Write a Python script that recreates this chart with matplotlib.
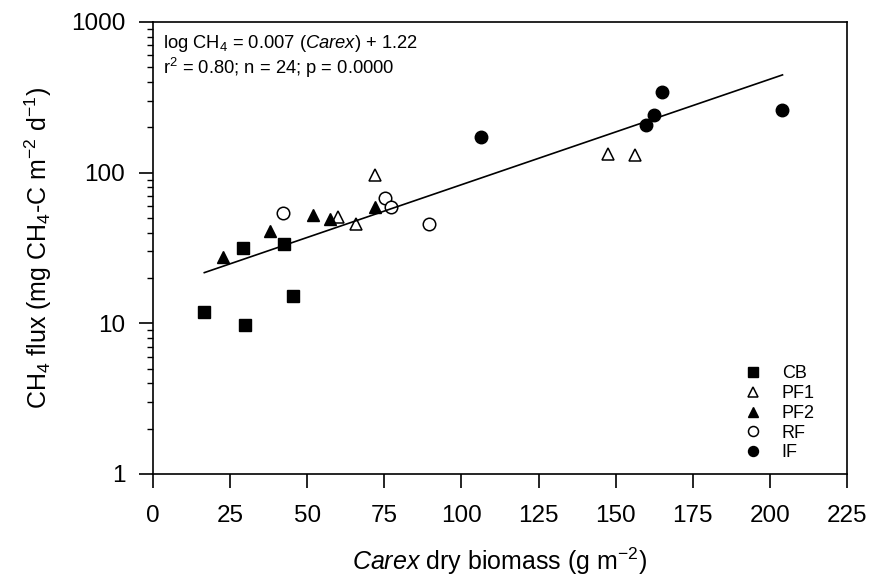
import numpy as np
import matplotlib
matplotlib.use('Agg')
import matplotlib.pyplot as plt
from matplotlib.ticker import LogLocator, NullFormatter, FixedLocator

plt.rcParams['font.family'] = ['Liberation Sans', 'DejaVu Sans']
plt.rcParams['mathtext.fontset'] = 'custom'
plt.rcParams['mathtext.rm'] = 'Liberation Sans'
plt.rcParams['mathtext.it'] = 'Liberation Sans:italic'
plt.rcParams['mathtext.default'] = 'regular'

# datos
cb_x = [16.6, 29.0, 29.8, 42.6, 45.3]
cb_y = [11.9, 31.5, 9.8, 33.6, 15.2]
pf1_x = [60.1, 65.7, 72.1, 147.6, 156.4]
pf1_y = [51.0, 45.8, 96.8, 132.0, 130.0]
pf2_x = [22.5, 38.0, 52.0, 57.4, 72.1]
pf2_y = [27.4, 41.0, 52.3, 49.0, 58.9]
rf_x = [42.0, 75.3, 77.1, 89.6]
rf_y = [54.2, 67.5, 59.1, 45.4]
if_x = [106.4, 159.9, 162.3, 164.9, 204.1]
if_y = [172.0, 208.0, 242.0, 344.0, 259.0]

pendiente = 0.007
ordenada = 1.22

fig = plt.figure(figsize=(8.7, 5.78), dpi=100)
ax = fig.add_axes([0.176, 0.180, 0.7975, 0.782])

ms = 9
ax.plot(cb_x, cb_y, 's', color='k', ms=ms*0.95, label='CB', ls='none')
ax.plot(pf1_x, pf1_y, '^', mfc='white', mec='k', mew=1.1, ms=ms, label='PF1', ls='none')
ax.plot(pf2_x, pf2_y, '^', color='k', ms=ms, label='PF2', ls='none')
ax.plot(rf_x, rf_y, 'o', mfc='white', mec='k', mew=1.1, ms=ms, label='RF', ls='none')
ax.plot(if_x, if_y, 'o', color='k', ms=ms, label='IF', ls='none')

# recta de regresion
todos_x = cb_x + pf1_x + pf2_x + rf_x + if_x
xr = np.array([min(todos_x), max(todos_x)])
ax.plot(xr, 10**(pendiente*xr + ordenada), 'k-', lw=1.2)

ax.set_yscale('log')
ax.set_xlim(0, 225)
ax.set_ylim(1, 1000)
ax.xaxis.set_major_locator(FixedLocator(np.arange(0, 226, 25)))
ax.set_yticks([1, 10, 100, 1000])
ax.set_yticklabels(['1', '10', '100', '1000'])
ax.yaxis.set_minor_locator(LogLocator(base=10, subs=np.arange(2, 10)))
ax.yaxis.set_minor_formatter(NullFormatter())

ax.tick_params(axis='both', which='major', direction='out', length=10, width=1.2,
               labelsize=17.5, top=False, right=False)
ax.tick_params(axis='y', which='minor', direction='out', length=4.5, width=1, right=False)
ax.tick_params(axis='x', pad=12)
ax.tick_params(axis='y', pad=10)
for s in ax.spines.values():
    s.set_linewidth(1.2)

ax.set_xlabel(r'$\it{Carex}$ dry biomass (g m$^{-2}$)', fontsize=18, labelpad=14)
ax.set_ylabel(r'CH$_4$ flux (mg CH$_4$-C m$^{-2}$ d$^{-1}$)', fontsize=18, labelpad=12)

ax.text(0.014, 0.975, r'log CH$_4$ = 0.007 ($\it{Carex}$) + 1.22', transform=ax.transAxes,
        fontsize=13.2, va='top', ha='left')
ax.text(0.014, 0.925, r'r$^2$ = 0.80; n = 24; p = 0.0000', transform=ax.transAxes,
        fontsize=13.2, va='top', ha='left')

leg = ax.legend(loc='lower left', bbox_to_anchor=(0.833, 0.0), frameon=False,
                fontsize=13, handlelength=1.0, handletextpad=1.1,
                labelspacing=0.15, markerscale=0.8, borderpad=0.2)

fig.savefig('out.png', dpi=100)
